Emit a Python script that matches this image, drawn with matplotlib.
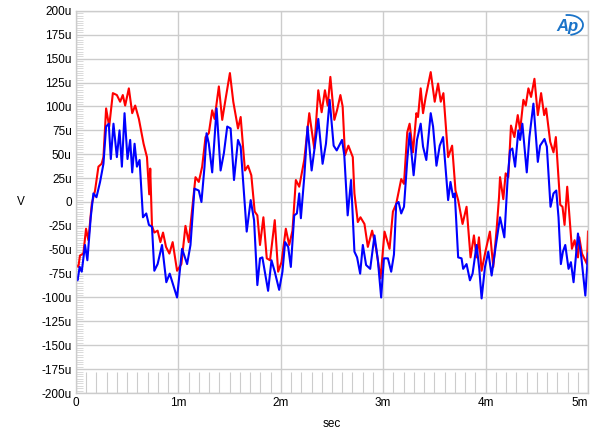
import matplotlib.pyplot as plt
from matplotlib.patches import Arc
from matplotlib.ticker import MultipleLocator

plt.rcParams['font.family'] = ['Liberation Sans', 'DejaVu Sans']

# -------------------- Data ---------------------------------------------- #
# time in ms, voltage in uV
red_t = [0.0, 0.023, 0.039, 0.072, 0.098, 0.121, 0.154, 0.186, 0.219, 0.25, 0.268, 0.294,
         0.324, 0.36, 0.399, 0.431, 0.457, 0.48, 0.516, 0.549, 0.578, 0.614, 0.66, 0.693,
         0.715, 0.725, 0.742, 0.765, 0.797, 0.824, 0.85, 0.879, 0.912, 0.944, 0.987, 1.029,
         1.069, 1.101, 1.167, 1.199, 1.232, 1.265, 1.297, 1.33, 1.353, 1.395, 1.428, 1.461,
         1.503, 1.536, 1.582, 1.608, 1.65, 1.68, 1.712, 1.745, 1.771, 1.797, 1.83, 1.863,
         1.895, 1.941, 1.974, 2.007, 2.049, 2.082, 2.114, 2.147, 2.18, 2.229, 2.278, 2.327,
         2.366, 2.399, 2.431, 2.458, 2.484, 2.523, 2.549, 2.582, 2.604, 2.627, 2.66, 2.703,
         2.719, 2.752, 2.778, 2.817, 2.85, 2.892, 2.931, 2.974, 3.013, 3.062, 3.095, 3.127,
         3.176, 3.203, 3.235, 3.258, 3.291, 3.324, 3.34, 3.366, 3.389, 3.415, 3.464, 3.503,
         3.536, 3.562, 3.588, 3.634, 3.673, 3.706, 3.732, 3.775, 3.814, 3.853, 3.886, 3.912,
         3.935, 3.961, 4.0, 4.042, 4.075, 4.108, 4.131, 4.141, 4.173, 4.196, 4.222, 4.248,
         4.281, 4.314, 4.337, 4.369, 4.392, 4.418, 4.444, 4.477, 4.51, 4.542, 4.572, 4.591,
         4.631, 4.663, 4.686, 4.729, 4.751, 4.771, 4.797, 4.843, 4.869, 4.902, 4.915, 4.941,
         4.99, 5.0]
red_v = [-66, -68, -56, -54, -28, -40, -2, 12, 37, 40, 47, 98,
         79, 114, 112, 105, 112, 101, 119, 93, 101, 87, 61, 47,
         8, 35, -25, -32, -30, -42, -32, -47, -54, -42, -72, -65,
         -25, -42, 26, 21, 37, 68, 72, 96, 87, 121, 86, 108,
         135, 105, 77, 89, 33, 38, 28, -10, -14, -45, -16, -59,
         -61, -19, -73, -63, -28, -45, -30, 23, 16, 44, 93, 56,
         117, 94, 117, 101, 131, 86, 96, 112, 100, 49, 59, 47,
         9, -21, -16, -23, -47, -30, -49, -80, -31, -49, -10, -2,
         24, 19, 73, 82, 52, 93, 89, 119, 93, 110, 136, 105,
         124, 105, 114, 47, 59, 12, 2, -23, -5, -58, -35, -58,
         -37, -72, -51, -31, -68, -28, 5, 26, 3, 30, 26, 80,
         68, 91, 75, 107, 101, 119, 110, 129, 91, 114, 91, 98,
         63, 52, 68, -3, -5, -24, 16, -49, -40, -58, -37, -54,
         -65, -31]

blue_t = [0.0, 0.015, 0.036, 0.056, 0.088, 0.111, 0.144, 0.17, 0.2, 0.235, 0.268, 0.294,
          0.32, 0.34, 0.366, 0.399, 0.425, 0.448, 0.474, 0.503, 0.529, 0.549, 0.572, 0.595,
          0.621, 0.654, 0.686, 0.712, 0.742, 0.765, 0.797, 0.84, 0.882, 0.915, 0.987, 1.036,
          1.085, 1.118, 1.157, 1.199, 1.225, 1.255, 1.275, 1.297, 1.33, 1.373, 1.412, 1.444,
          1.477, 1.51, 1.543, 1.582, 1.608, 1.667, 1.706, 1.739, 1.771, 1.797, 1.82, 1.876,
          1.909, 1.941, 1.984, 2.016, 2.042, 2.072, 2.098, 2.131, 2.157, 2.18, 2.196, 2.229,
          2.261, 2.301, 2.327, 2.366, 2.408, 2.441, 2.477, 2.516, 2.546, 2.598, 2.62, 2.653,
          2.686, 2.719, 2.745, 2.775, 2.801, 2.833, 2.873, 2.915, 2.948, 2.98, 3.007, 3.046,
          3.078, 3.105, 3.127, 3.15, 3.176, 3.203, 3.235, 3.258, 3.297, 3.33, 3.366, 3.389,
          3.421, 3.464, 3.487, 3.52, 3.552, 3.585, 3.634, 3.657, 3.683, 3.699, 3.732, 3.765,
          3.781, 3.814, 3.847, 3.873, 3.912, 3.938, 3.961, 3.994, 4.026, 4.059, 4.098, 4.141,
          4.183, 4.216, 4.239, 4.261, 4.288, 4.32, 4.337, 4.359, 4.402, 4.428, 4.467, 4.51,
          4.532, 4.575, 4.598, 4.634, 4.663, 4.69, 4.712, 4.735, 4.755, 4.778, 4.81, 4.833,
          4.859, 4.902, 4.935, 4.974, 5.0]
blue_v = [-79, -82, -68, -73, -45, -61, -16, 9, 5, 21, 40, 79,
          82, 45, 82, 47, 75, 37, 93, 45, 65, 31, 61, 37,
          44, -16, -12, -24, -26, -72, -65, -45, -84, -75, -100, -49,
          -65, -45, 14, 12, 0, 37, 72, 61, 31, 98, 33, 51,
          79, 77, 23, 65, 58, -31, 2, -19, -87, -59, -58, -93,
          -61, -73, -92, -73, -42, -47, -68, -14, -12, 9, -17, 26,
          79, 33, 54, 87, 40, 61, 107, 59, 54, 65, 49, -14,
          23, -52, -58, -75, -45, -66, -70, -35, -61, -100, -59, -59,
          -73, -55, -2, 0, -12, -5, 44, 72, 28, 65, 82, 58,
          44, 93, 79, 38, 59, 68, 2, 21, 5, 9, -58, -59,
          -70, -65, -82, -75, -45, -70, -101, -68, -52, -77, -47, -16,
          -37, 26, 54, 56, 37, 75, 65, 82, 31, 68, 103, 42,
          59, 66, 58, -5, 9, 12, -16, -65, -52, -45, -70, -63,
          -84, -33, -58, -98, -54]

y_ticks = list(range(-200, 201, 25))
y_labels = ['0' if v == 0 else f'{v}u' for v in y_ticks]
x_ticks = [0, 1, 2, 3, 4, 5]
x_labels = ['0', '1m', '2m', '3m', '4m', '5m']

# -----------------------  Plot -------------------------- #
fig = plt.figure(figsize=(6, 4.36), dpi=100)
ax = fig.add_axes([76 / 600, 1 - 393 / 436, 512 / 600, 382 / 436])

ax.plot(red_t, red_v, color='#ff0000', lw=1.5, solid_joinstyle='round')
ax.plot(blue_t, blue_v, color='#0000ff', lw=1.5, solid_joinstyle='round')

ax.set_xlim(0, 5)
ax.set_ylim(-200, 200)
ax.set_xticks(x_ticks, x_labels)
ax.set_yticks(y_ticks, y_labels)
ax.grid(True, color='#cccccc', lw=1.0)
ax.set_axisbelow(True)

# AP-style minor ticks drawn inside the frame
ax.xaxis.set_minor_locator(MultipleLocator(0.1))
ax.yaxis.set_minor_locator(MultipleLocator(2.5))
ax.tick_params(axis='x', which='minor', direction='in', length=15, width=0.8,
               color='#cccccc')
ax.tick_params(axis='y', which='minor', direction='in', length=5, width=0.6,
               color='#d5d5d5')
ax.tick_params(which='major', length=0, labelsize=8.5, pad=3)
for lbl in ax.get_xticklabels():
    if lbl.get_text() == '5m':
        lbl.set_horizontalalignment('right')

for sp in ax.spines.values():
    sp.set_color('#cccccc')
    sp.set_linewidth(1.0)

ax.set_xlabel('sec', fontsize=8.5)
ax.xaxis.set_label_coords(0.5, -0.065)
ax.set_ylabel('V', fontsize=8.5, rotation=0, va='center', ha='center')
ax.yaxis.set_label_coords(-0.108, 0.5)

# Audio Precision logo
fig.text(567 / 600, 1 - 26 / 436, 'Ap', color='#1a73c8', fontsize=12,
         fontstyle='italic', fontweight='bold', ha='center', va='center')
fig.patches.append(Arc((568 / 600, 1 - 25 / 436), 30 / 600, 20 / 436,
                       theta1=-80, theta2=100, color='#1a73c8', lw=1.3,
                       transform=fig.transFigure))

fig.savefig('out.png', dpi=100)
